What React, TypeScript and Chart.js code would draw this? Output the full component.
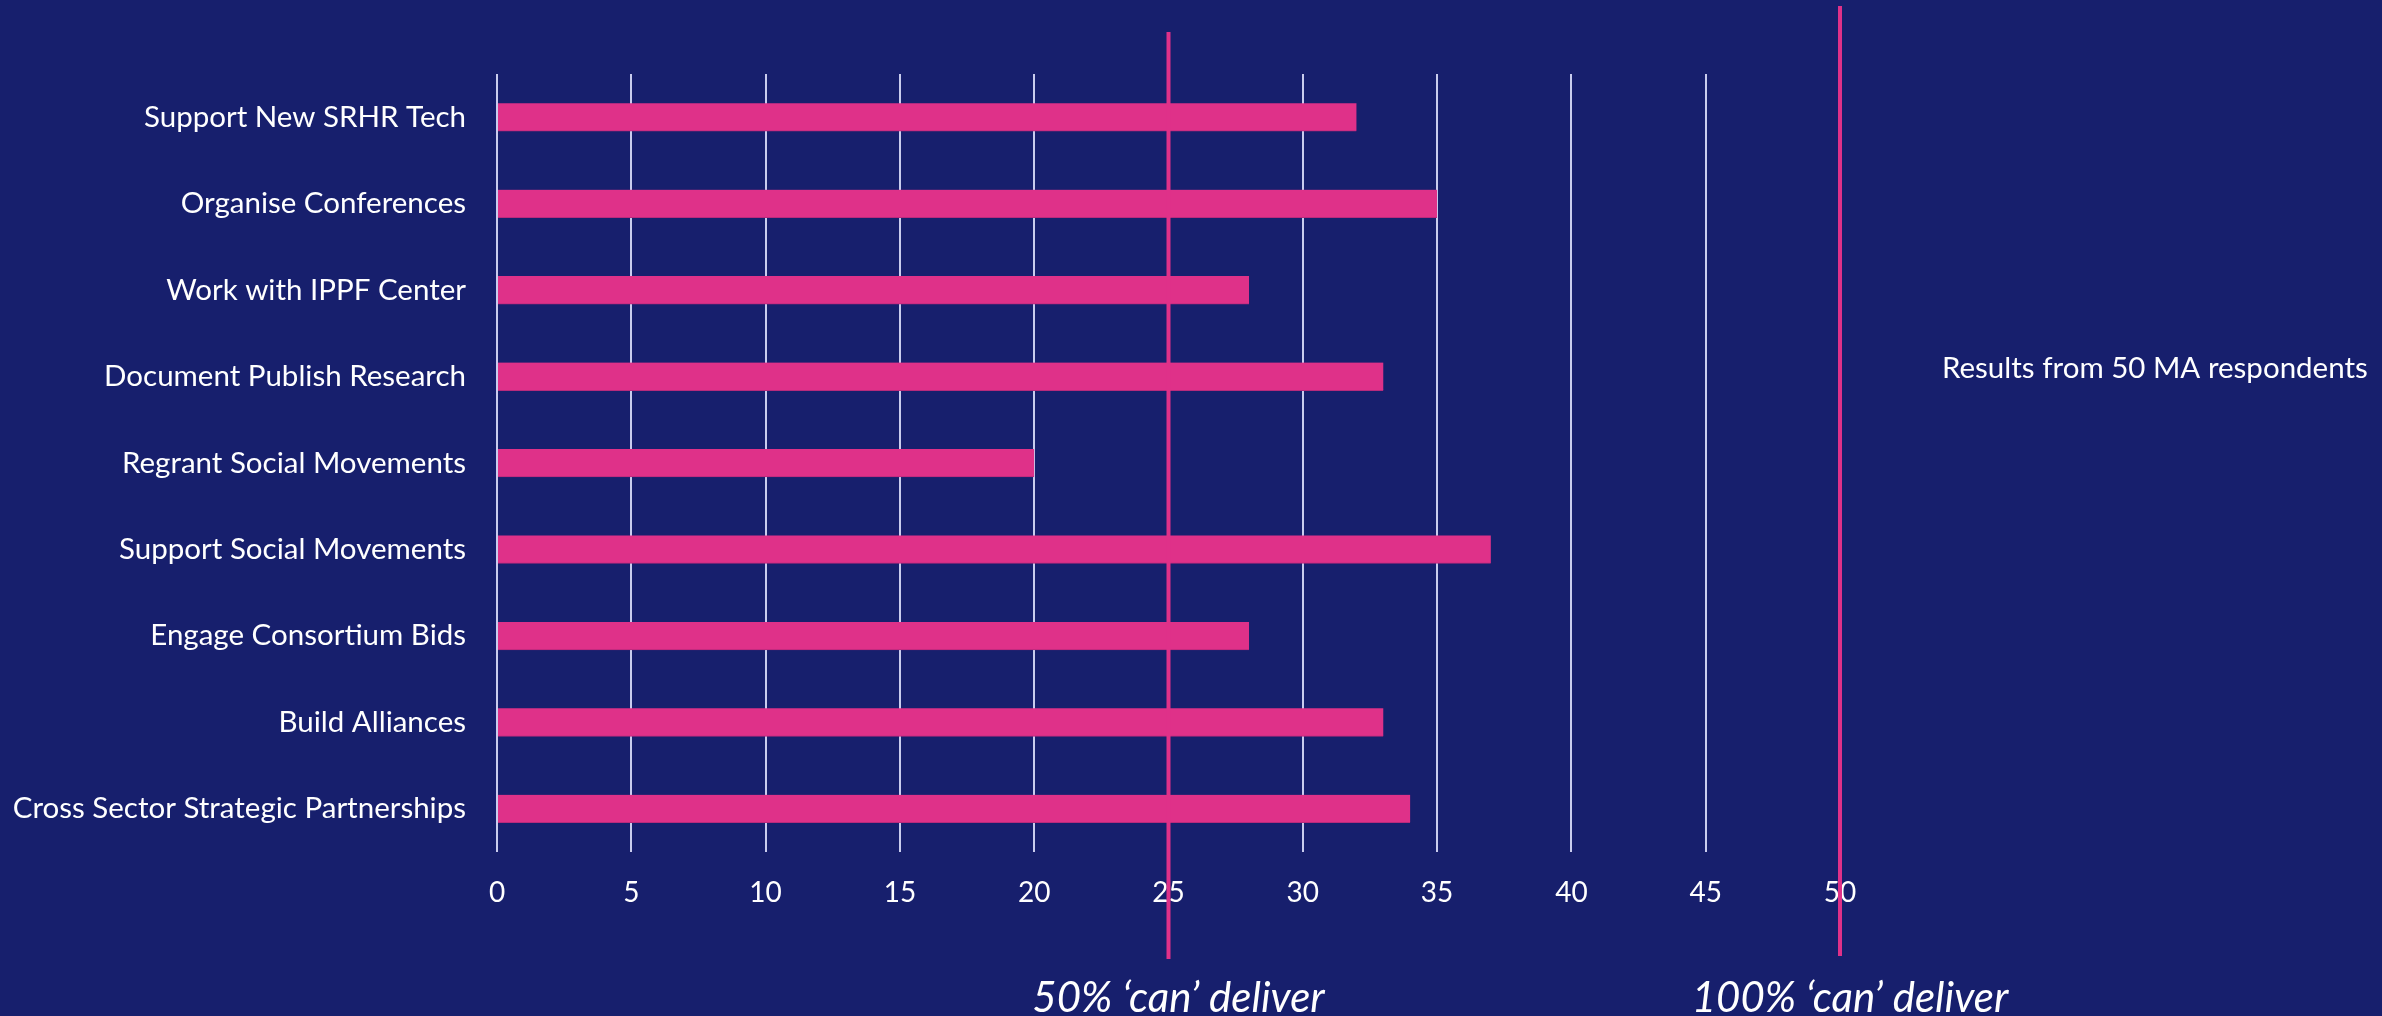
import React, { useEffect, useRef } from "react";
import { Chart, registerables } from "chart.js";

Chart.register(...registerables);

const categories = [
  "Support New SRHR Tech",
  "Organise Conferences",
  "Work with IPPF Center",
  "Document Publish Research",
  "Regrant Social Movements",
  "Support Social Movements",
  "Engage Consortium Bids",
  "Build Alliances",
  "Cross Sector Strategic Partnerships",
];
const values = [32, 35, 28, 33, 20, 37, 28, 33, 34];
const referenceValues = [25, 50];
const referenceLabels = ["50% \u2018can\u2019 deliver", "100% \u2018can\u2019 deliver"];
const noteText = "Results from 50 MA respondents";
const xMin = 0;
const xMax = 50;
const xStep = 5;

const BG = "#171F6D";
const PINK = "#DF3189";
const GRID = "#C9CCEE";
const FONT = "Lato, 'Open Sans', sans-serif";

const overlay = {
  id: "overlay",
  afterDatasetsDraw(chart: any) {
    const ctx = chart.ctx;
    const xs = chart.scales.x;
    const tops = [32, 6];
    const bottoms = [959, 956];
    ctx.save();
    referenceValues.forEach((v, i) => {
      const x = xs.getPixelForValue(v);
      ctx.strokeStyle = PINK;
      ctx.lineWidth = 4;
      ctx.beginPath();
      ctx.moveTo(x, tops[i]);
      ctx.lineTo(x, bottoms[i]);
      ctx.stroke();
      ctx.fillStyle = "#FFFFFF";
      ctx.font = "italic 42px " + FONT;
      ctx.textAlign = "center";
      ctx.textBaseline = "middle";
      ctx.fillText(referenceLabels[i], x + 10, 998);
    });
    ctx.font = "29.5px " + FONT;
    ctx.textAlign = "left";
    ctx.textBaseline = "middle";
    ctx.fillStyle = "#FFFFFF";
    ctx.fillText(noteText, 1942, 368);
    ctx.restore();
  },
};

export default function App() {
  const ref = useRef<HTMLCanvasElement>(null);
  useEffect(() => {
    document.body.style.margin = "0";
    document.body.style.background = BG;
    const chart = new Chart(ref.current!, {
      type: "bar",
      data: {
        labels: categories,
        datasets: [
          {
            data: values,
            backgroundColor: PINK,
            borderColor: "#B92A7C",
            borderWidth: { top: 0, left: 0, right: 0, bottom: 1 } as any,
            borderSkipped: false,
            barThickness: 28,
          },
        ],
      },
      options: {
        indexAxis: "y",
        animation: false,
        responsive: false,
        maintainAspectRatio: false,
        layout: { padding: { top: 74, right: 542, bottom: 0, left: 0 } },
        plugins: { legend: { display: false }, tooltip: { enabled: false } },
        scales: {
          x: {
            min: xMin,
            max: xMax,
            ticks: {
              stepSize: xStep,
              color: "#FFFFFF",
              font: { family: FONT, size: 28 },
              padding: 24,
            },
            grid: { color: GRID, lineWidth: 2, drawTicks: false },
            border: { display: false },
            afterFit: (s: any) => {
              s.height = 164;
            },
          },
          y: {
            ticks: {
              color: "#FFFFFF",
              font: { family: FONT, size: 29.5 },
              padding: 31,
            },
            grid: { display: false, drawTicks: false },
            border: { display: false },
            afterFit: (s: any) => {
              s.width = 497;
            },
          },
        },
      },
      plugins: [overlay],
    });
    return () => chart.destroy();
  }, []);
  return (
    <div style={{ position: "fixed", left: 0, top: 0, width: 2382, height: 1016, background: BG }}>
      <canvas ref={ref} width={2382} height={1016} style={{ width: 2382, height: 1016, display: "block" }} />
    </div>
  );
}
